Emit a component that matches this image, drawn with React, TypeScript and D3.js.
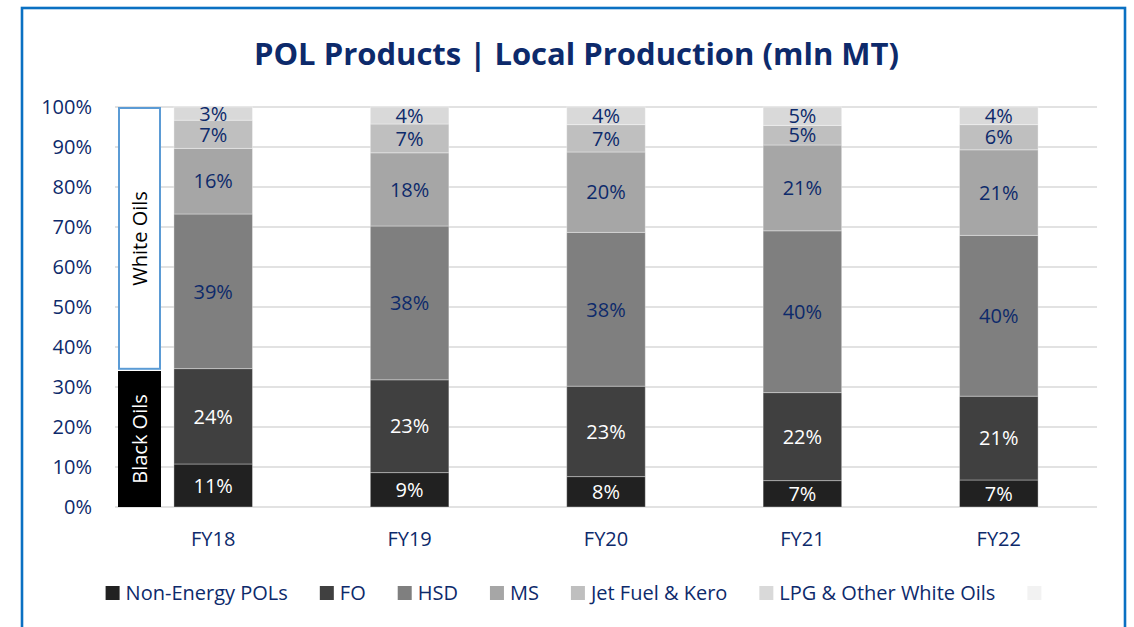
import * as d3 from "d3";
import { useEffect, useRef } from "react";

const categories = ["FY18", "FY19", "FY20", "FY21", "FY22"];

const seriesNames = [
  "Non-Energy POLs",
  "FO",
  "HSD",
  "MS",
  "Jet Fuel & Kero",
  "LPG & Other White Oils",
];

const nonEnergy = [10.75, 8.6, 7.6, 6.6, 6.75];
const fo = [23.85, 23.2, 22.6, 22.0, 20.95];
const hsd = [38.65, 38.45, 38.45, 40.45, 40.2];
const ms = [16.4, 18.3, 20.1, 21.45, 21.4];
const jet = [7.05, 7.2, 6.85, 4.9, 6.3];
const lpg = [3.3, 4.25, 4.4, 4.6, 4.4];

const seriesColors = ["#212121", "#404040", "#7f7f7f", "#a6a6a6", "#bfbfbf", "#d9d9d9"];
// blank entry left over in the legend
const extraLegendColor = "#f2f2f2";

const yTicks = [0, 10, 20, 30, 40, 50, 60, 70, 80, 90, 100];

const groups = [
  { label: "Black Oils", from: 0, to: 34 },
  { label: "White Oils", from: 34.3, to: 100 },
];

const title = "POL Products | Local Production (mln MT)";

const NAVY = "#0d2a6b";
const FONT = "'Open Sans', sans-serif";

const WIDTH = 1134;
const HEIGHT = 627;

const Chart = () => {
  const svgRef = useRef<SVGSVGElement>(null);

  useEffect(() => {
    const margin = { top: 107, right: 37, bottom: 120, left: 115 };
    const svg = d3.select(svgRef.current);
    svg.selectAll("*").remove();

    svg.attr("width", WIDTH).attr("height", HEIGHT);

    // frame
    const frame = { x: 22, y: 8, w: 1103 };
    svg
      .append("rect")
      .attr("x", frame.x)
      .attr("y", frame.y)
      .attr("width", frame.w)
      .attr("height", HEIGHT + 20)
      .attr("fill", "#fff")
      .attr("stroke", "#0a70c2")
      .attr("stroke-width", 2.6);
    const cx = frame.x + frame.w / 2;

    svg
      .append("text")
      .attr("x", cx + 3)
      .attr("y", 65)
      .attr("text-anchor", "middle")
      .attr("fill", NAVY)
      .attr("font-family", FONT)
      .attr("font-weight", "700")
      .attr("font-size", 31)
      .text(title);

    const xScale = d3
      .scaleBand()
      .domain(categories)
      .range([margin.left, WIDTH - margin.right]);
    const barW = xScale.bandwidth() * 0.4;

    const yScale = d3
      .scaleLinear()
      .domain([0, 100])
      .range([HEIGHT - margin.bottom, margin.top]);

    // gridlines
    svg
      .selectAll(".grid")
      .data(yTicks)
      .enter()
      .append("line")
      .attr("class", "grid")
      .attr("x1", margin.left)
      .attr("x2", WIDTH - margin.right)
      .attr("y1", (d) => yScale(d))
      .attr("y2", (d) => yScale(d))
      .attr("stroke", "#d9d9d9")
      .attr("stroke-width", 1.5);

    svg
      .selectAll(".yLabel")
      .data(yTicks)
      .enter()
      .append("text")
      .attr("class", "yLabel")
      .attr("x", margin.left - 23)
      .attr("y", (d) => yScale(d))
      .attr("dy", "0.36em")
      .attr("text-anchor", "end")
      .attr("fill", NAVY)
      .attr("font-family", FONT)
      .attr("font-size", 20)
      .text((d) => `${d}%`);

    // stacked data
    const allSeries = [nonEnergy, fo, hsd, ms, jet, lpg];
    const rows = categories.map((c, i) => {
      const row: any = { cat: c };
      seriesNames.forEach((s, k) => (row[s] = allSeries[k][i]));
      return row;
    });
    const stacked = d3.stack().keys(seriesNames)(rows);

    const layers = svg
      .selectAll(".layer")
      .data(stacked)
      .enter()
      .append("g")
      .attr("class", "layer")
      .attr("fill", (_, k) => seriesColors[k]);

    layers
      .selectAll("rect")
      .data((d) => d)
      .enter()
      .append("rect")
      .attr("x", (d: any) => xScale(d.data.cat)! + (xScale.bandwidth() - barW) / 2)
      .attr("y", (d) => yScale(d[1]))
      .attr("width", barW)
      .attr("height", (d) => yScale(d[0]) - yScale(d[1]))
      .attr("stroke", "#ffffff")
      .attr("stroke-opacity", 0.35)
      .attr("stroke-width", 1);

    layers
      .selectAll("text")
      .data((d) => d)
      .enter()
      .append("text")
      .attr("x", (d: any) => xScale(d.data.cat)! + xScale.bandwidth() / 2)
      .attr("y", (d) => (yScale(d[0]) + yScale(d[1])) / 2)
      .attr("dy", "0.36em")
      .attr("text-anchor", "middle")
      .attr("fill", function () {
        const k = seriesColors.indexOf(d3.select(this.parentNode as any).attr("fill"));
        return k < 2 ? "#ffffff" : NAVY;
      })
      .attr("font-family", FONT)
      .attr("font-size", 20)
      .text((d) => `${Math.round(d[1] - d[0])}%`);

    // Black / White oils brackets next to FY18
    const gx = xScale(categories[0])! + 3;
    const gw = 43;
    groups.forEach((g, i) => {
      const y0 = yScale(g.to);
      const y1 = yScale(g.from);
      if (i === 0) {
        svg
          .append("rect")
          .attr("x", gx)
          .attr("y", y0)
          .attr("width", gw)
          .attr("height", y1 - y0)
          .attr("fill", "#000");
      } else {
        svg
          .append("rect")
          .attr("x", gx + 1)
          .attr("y", y0 + 1)
          .attr("width", gw - 2)
          .attr("height", y1 - y0 - 2)
          .attr("fill", "#fff")
          .attr("stroke", "#5b9bd5")
          .attr("stroke-width", 2);
      }
      svg
        .append("text")
        .attr("transform", `translate(${gx + gw / 2}, ${(y0 + y1) / 2}) rotate(-90)`)
        .attr("dy", "0.36em")
        .attr("text-anchor", "middle")
        .attr("fill", i === 0 ? "#fff" : "#000")
        .attr("font-family", FONT)
        .attr("font-size", 20)
        .text(g.label);
    });

    svg
      .selectAll(".xLabel")
      .data(categories)
      .enter()
      .append("text")
      .attr("class", "xLabel")
      .attr("x", (d) => xScale(d)! + xScale.bandwidth() / 2)
      .attr("y", 546)
      .attr("text-anchor", "middle")
      .attr("fill", NAVY)
      .attr("font-family", FONT)
      .attr("font-size", 20)
      .text((d) => d);

    // legend, centred in the frame after measuring
    const legendItems = [
      ...seriesNames.map((n, k) => ({ name: n, color: seriesColors[k] })),
      { name: "", color: extraLegendColor },
    ];
    const legend = svg.append("g");
    let cursor = 0;
    legendItems.forEach((item, k) => {
      legend
        .append("rect")
        .attr("x", cursor)
        .attr("y", 586)
        .attr("width", 14)
        .attr("height", 14)
        .attr("fill", item.color);
      cursor += 20;
      if (item.name) {
        const t = legend
          .append("text")
          .attr("x", cursor)
          .attr("y", 600)
          .attr("fill", NAVY)
          .attr("font-family", FONT)
          .attr("font-size", 20)
          .text(item.name);
        cursor += (t.node() as SVGTextElement).getComputedTextLength();
      }
      if (k < legendItems.length - 1) cursor += 32;
      else cursor -= 6;
    });
    legend.attr("transform", `translate(${cx - cursor / 2}, 0)`);
  }, []);

  return <svg ref={svgRef} style={{ display: "block" }}></svg>;
};

export default function App() {
  return (
    <div style={{ position: "fixed", left: 0, top: 0, background: "#fff" }}>
      <Chart />
    </div>
  );
}
